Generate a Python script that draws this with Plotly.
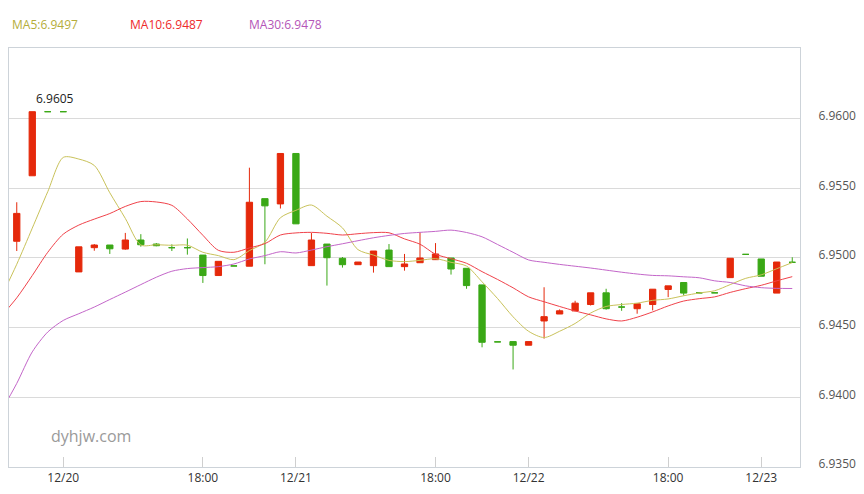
import plotly.graph_objects as go

# ---------------- data ----------------
idx = list(range(51))
opens = [6.9512, 6.9559, 6.9605, 6.9605, 6.949, 6.95074, 6.95093, 6.95064, 6.95129, 6.951,
         6.95074, 6.95074, 6.95021, 6.94874, 6.94943, 6.94941, 6.95426, 6.95388, 6.9575, 6.94945,
         6.951, 6.94998, 6.94952, 6.94945, 6.95057, 6.94938, 6.94966, 6.94988, 6.95, 6.94926,
         6.94807, 6.94398, 6.944, 6.94374, 6.94548, 6.94598, 6.9462, 6.94666, 6.9475, 6.94648,
         6.94636, 6.94666, 6.94774, 6.94824, 6.9475, 6.9475, 6.94859, 6.95026, 6.94993, 6.94748,
         6.94969]
highs = [6.954, 6.9605, 6.9605, 6.9605, 6.9508, 6.951, 6.95093, 6.9518, 6.95171, 6.95107,
         6.95098, 6.9514, 6.95021, 6.94976, 6.94943, 6.95648, 6.95426, 6.9575, 6.9575, 6.95179,
         6.951, 6.95007, 6.94971, 6.9505, 6.951, 6.95029, 6.95184, 6.95107, 6.95, 6.94926,
         6.94807, 6.94398, 6.944, 6.944, 6.9479, 6.94631, 6.94693, 6.9475, 6.94779, 6.94676,
         6.94671, 6.94776, 6.948, 6.94824, 6.9475, 6.9475, 6.94998, 6.95026, 6.94993, 6.94971,
         6.95005]
lows = [6.9505, 6.9559, 6.9605, 6.9605, 6.949, 6.95052, 6.95029, 6.95059, 6.95081, 6.95084,
        6.9505, 6.95024, 6.94821, 6.94874, 6.94943, 6.94941, 6.94955, 6.95355, 6.95245, 6.94945,
        6.94802, 6.94931, 6.94952, 6.94895, 6.94938, 6.94909, 6.94966, 6.94988, 6.94881, 6.94779,
        6.94359, 6.94398, 6.942, 6.94374, 6.94421, 6.94598, 6.9462, 6.94659, 6.94629, 6.94621,
        6.946, 6.94624, 6.94719, 6.94731, 6.9475, 6.9475, 6.94859, 6.95026, 6.94869, 6.94748,
        6.94969]
closes = [6.9532, 6.9605, 6.9605, 6.9605, 6.9508, 6.95093, 6.95066, 6.95129, 6.95095, 6.95088,
          6.95074, 6.95074, 6.94874, 6.94976, 6.94943, 6.954, 6.95374, 6.9575, 6.95245, 6.95129,
          6.95002, 6.94952, 6.94971, 6.9505, 6.94938, 6.94957, 6.95, 6.95029, 6.94921, 6.94802,
          6.94395, 6.94398, 6.94374, 6.944, 6.94579, 6.94621, 6.94676, 6.9475, 6.94636, 6.94648,
          6.94671, 6.94776, 6.948, 6.94748, 6.9475, 6.9475, 6.94998, 6.95026, 6.94869, 6.94971,
          6.94969]

# moving-average lines (first point sits just left of the visible window)
ma_x = list(range(-1, 51))
ma5 = [6.9472, 6.94955, 6.95214, 6.95476, 6.95722, 6.9571, 6.95664, 6.95468, 6.95284, 6.95093,
       6.95095, 6.95091, 6.95092, 6.95041, 6.95017, 6.94988, 6.95053, 6.95113, 6.95289, 6.95342,
       6.9538, 6.953, 6.95216, 6.9506, 6.95021, 6.94983, 6.94974, 6.94983, 6.94995, 6.94969,
       6.94942, 6.94829, 6.94709, 6.94578, 6.94474, 6.94429, 6.94474, 6.9453, 6.94605, 6.94652,
       6.94666, 6.94676, 6.94696, 6.94706, 6.94729, 6.94749, 6.94765, 6.94809, 6.94854, 6.94879,
       6.94923, 6.94967]
ma10 = [6.94582, 6.94714, 6.94874, 6.95041, 6.95171, 6.95236, 6.95279, 6.95319, 6.9537, 6.95405,
        6.95402, 6.95378, 6.9528, 6.95163, 6.95055, 6.95041, 6.95072, 6.95103, 6.95165, 6.9518,
        6.95184, 6.95177, 6.95165, 6.95174, 6.95182, 6.95181, 6.95137, 6.95099, 6.95027, 6.94995,
        6.94962, 6.94902, 6.94846, 6.94786, 6.94721, 6.94686, 6.94652, 6.9462, 6.94592, 6.94563,
        6.94548, 6.94575, 6.94613, 6.94656, 6.94691, 6.94708, 6.94721, 6.94753, 6.9478, 6.94804,
        6.94836, 6.94866]
ma30 = [6.939, 6.941, 6.94326, 6.94469, 6.94552, 6.946, 6.94648, 6.94702, 6.94755, 6.94809,
        6.94862, 6.94905, 6.94924, 6.94931, 6.94938, 6.94957, 6.94993, 6.95017, 6.95045, 6.95036,
        6.95057, 6.95081, 6.95102, 6.95124, 6.95145, 6.95162, 6.95176, 6.95184, 6.95191, 6.952,
        6.95183, 6.95152, 6.95097, 6.95041, 6.94986, 6.94969, 6.94954, 6.94941, 6.94928, 6.94913,
        6.94898, 6.94885, 6.94875, 6.94872, 6.94865, 6.94858, 6.94836, 6.94824, 6.948, 6.94787,
        6.94782, 6.94781]

ma_names = ["MA5", "MA10", "MA30"]
tick_idx = [3, 12, 18, 27, 33, 42, 48]
tick_text = ["12/20", "18:00", "12/21", "18:00", "12/22", "18:00", "12/23"]
y_ticks = [6.935, 6.940, 6.945, 6.950, 6.955, 6.960]
watermark = "dyhjw.com"

# ---------------- styles ----------------
UP = "#e5290b"
DOWN = "#3aa816"
MA_COLORS = ["#c9c25a", "#f0424a", "#c366c9"]
MA_TEXT_COLORS = ["#b5ad3a", "#ee2a2a", "#b455b8"]
FONT = "Open Sans"

fig = go.Figure()


def add_candles(ids, color):
    fig.add_trace(go.Candlestick(
        x=ids,
        open=[opens[i] for i in ids],
        high=[highs[i] for i in ids],
        low=[lows[i] for i in ids],
        close=[closes[i] for i in ids],
        increasing=dict(line=dict(color=color, width=1), fillcolor=color),
        decreasing=dict(line=dict(color=color, width=1), fillcolor=color),
        whiskerwidth=0,
        showlegend=False,
    ))


up_ids = [i for i in idx if closes[i] > opens[i]]
dn_ids = [i for i in idx if closes[i] <= opens[i]]
add_candles(up_ids, UP)
add_candles(dn_ids, DOWN)

for name, vals, col in zip(ma_names, [ma5, ma10, ma30], MA_COLORS):
    fig.add_trace(go.Scatter(x=ma_x, y=vals, mode="lines", name=name,
                             line=dict(color=col, width=1, shape="spline", smoothing=0.8),
                             showlegend=False, hoverinfo="skip"))

# legend-like header texts
legend_x = [0.0015, 0.1505, 0.301]
for name, vals, col, lx in zip(ma_names, [ma5, ma10, ma30], MA_TEXT_COLORS, legend_x):
    fig.add_annotation(xref="paper", yref="paper", x=lx, y=1.057, xanchor="left", yanchor="middle",
                       text=f"{name}:{vals[-1]:.4f}", showarrow=False,
                       font=dict(family=FONT, size=12, color=col))

# max price label
imax = max(idx, key=lambda i: highs[i])
fig.add_annotation(x=imax, y=highs[imax], text=f"{highs[imax]:.4f}", showarrow=False,
                   xshift=23, yshift=13, font=dict(family=FONT, size=12, color="#222"))

# watermark
fig.add_annotation(xref="paper", yref="paper", x=0.05, y=0.074, xanchor="left", yanchor="middle",
                   text=watermark, showarrow=False, font=dict(family=FONT, size=16, color="#9a9a9a"))

fig.update_layout(
    width=864, height=494,
    margin=dict(l=8, r=59, t=48, b=25),
    paper_bgcolor="white", plot_bgcolor="white",
    showlegend=False,
    boxgap=0.42,
    font=dict(family=FONT, size=12, color="#444"),
    xaxis=dict(range=[-0.5, 50.5], tickmode="array", tickvals=tick_idx, ticktext=tick_text,
               ticks="inside", ticklen=10, tickcolor="#cfcfcf", showgrid=False, zeroline=False,
               showline=True, linecolor="#cdd3d9", linewidth=1, mirror=True,
               rangeslider=dict(visible=False), tickfont=dict(family=FONT, size=12, color="#333")),
    yaxis=dict(side="right", range=[6.935, 6.96507], tickmode="array", tickvals=y_ticks,
               tickformat=".4f", showgrid=True, gridcolor="#dadada", gridwidth=1, zeroline=False,
               showline=True, linecolor="#cdd3d9", linewidth=1, mirror=True, ticks="",
               ticklabelstandoff=15, ticklabelshift=-3,
               tickfont=dict(family=FONT, size=12, color="#555")),
)

fig.write_html("out.html")
